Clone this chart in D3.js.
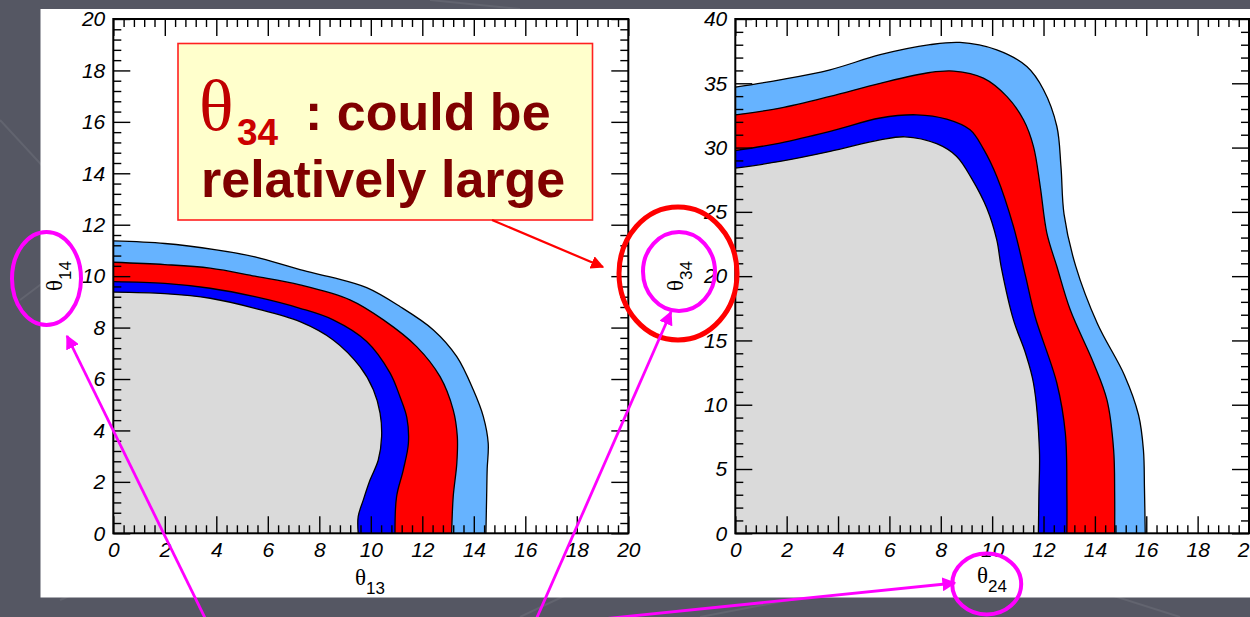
<!DOCTYPE html>
<html><head><meta charset="utf-8">
<script src="https://cdn.jsdelivr.net/npm/d3@7"></script>
<style>
html,body{margin:0;padding:0;background:#555763;}
svg{display:block;}
</style></head>
<body>
<svg id="c" width="1250" height="617"></svg>
<script>
// ---------------- DATA ----------------
// Left panel: theta13 (x) vs theta14 (y), outer boundaries of each region
const leftXTicks = [0,2,4,6,8,10,12,14,16,18,20];
const leftYTicks = [0,2,4,6,8,10,12,14,16,18,20];
const leftLightBlue = [[0,11.37],[2,11.27],[4,11.02],[5.5,10.75],[7.25,10.25],[8.5,9.95],[9.84,9.55],[11.13,8.82],[12.43,7.91],[13.34,6.87],[13.98,5.58],[14.37,4.54],[14.56,3.5],[14.52,2.5],[14.5,1.5],[14.47,0]];
const leftRed = [[0,10.54],[2,10.45],[3.76,10.31],[5.5,10.0],[7.25,9.66],[9.19,9.08],[10.49,8.3],[11.78,7.26],[12.69,6.09],[13.2,4.8],[13.36,3.76],[13.34,2.72],[13.2,1.42],[13.14,0]];
const leftBlue = [[0,9.79],[2,9.72],[3.76,9.53],[5.5,9.2],[7.25,8.75],[8.54,8.3],[9.84,7.46],[10.75,6.23],[11.13,5.32],[11.4,4.5],[11.46,3.5],[11.26,2.46],[11.0,1.42],[10.94,0]];
const leftGray = [[0,9.38],[2,9.32],[3.76,9.14],[5.5,8.75],[7.25,8.23],[8.54,7.52],[9.58,6.48],[10.1,5.58],[10.36,4.67],[10.42,3.76],[10.29,2.85],[9.97,2.07],[9.71,1.3],[9.51,0.65],[9.51,0]];

// Right panel: theta24 (x) vs theta34 (y)
const rightXTicks = [0,2,4,6,8,10,12,14,16,18,20];
const rightYTicks = [0,5,10,15,20,25,30,35,40];
const rightLightBlue = [[0,34.7],[1.74,35.27],[3.69,36.05],[5.64,37.22],[7.58,38.0],[8.75,38.18],[10.18,37.6],[11.35,36.3],[12.0,34.5],[12.52,31.64],[12.68,28.5],[12.8,24.8],[13.25,20.8],[14.1,16.3],[15.15,12.3],[15.7,9.2],[15.89,6.48],[15.93,3.5],[15.96,0]];
const rightRed = [[0,32.55],[1.74,33.07],[3.69,33.98],[5.64,35.0],[7.58,35.84],[8.5,35.95],[9.66,35.4],[10.57,33.98],[11.22,32.16],[11.61,30.08],[11.87,27.0],[12.13,23.35],[12.52,20.75],[13.04,17.38],[13.95,13.23],[14.47,10.37],[14.73,6.48],[14.77,3],[14.77,0]];
const rightBlue = [[0,29.77],[1.74,30.35],[3.69,31.26],[5.64,32.3],[7.06,32.55],[8.23,32.21],[9.14,31.38],[9.66,29.9],[10.18,27.75],[10.83,23.86],[11.3,20.0],[11.67,16.86],[12.52,11.67],[12.85,7.78],[12.91,3],[12.91,0]];
const rightGray = [[0,28.4],[1.74,28.92],[3.69,29.7],[5.64,30.6],[6.6,30.84],[7.84,30.3],[8.62,29.31],[9.2,27.6],[9.79,25.3],[10.18,22.82],[10.35,20.75],[10.83,16.6],[11.3,14],[11.61,11.67],[11.84,6.48],[11.82,3],[11.8,0]];

const regionColors = ["#66b3ff","#ff0000","#0000ff","#dadada"];
const axisTitles = {left:["13","14"], right:["24","34"]};
const noteLine1 = ": could be";
const noteLine2 = "relatively large";

// ---------------- DRAW ----------------
const svg = d3.select("#c");

// faint background decorations
const deco = [[0,120,120,250],[60,600,200,540],[520,617,640,560],[700,617,1000,560],[1000,560,1180,617],[20,300,100,240],[430,0,520,9]];
svg.selectAll("line.deco").data(deco).join("line")
  .attr("x1",d=>d[0]).attr("y1",d=>d[1]).attr("x2",d=>d[2]).attr("y2",d=>d[3])
  .attr("stroke","#62646f").attr("stroke-width",2);

// white slide panel
svg.append("rect").attr("x",40.5).attr("y",9).attr("width",1215).attr("height",588.5).attr("fill","#ffffff");

const defs = svg.append("defs");
["m","r"].forEach(id=>{
  defs.append("marker").attr("id","arr-"+id).attr("viewBox","0 0 10 10")
    .attr("refX",9).attr("refY",5).attr("markerWidth",id==="m"?5:6).attr("markerHeight",id==="m"?5:6)
    .attr("markerUnits","strokeWidth").attr("orient","auto")
    .append("path").attr("d","M0,0L10,5L0,10Z").attr("fill",id==="m"?"#ff00ff":"#ff0000");
});

function panel(cfg){
  const {x,y,xMinor,yMinor,regions,xTicks,yTicks,id} = cfg;
  const g = svg.append("g");
  defs.append("clipPath").attr("id","clip-"+id).append("rect")
    .attr("x",x.range()[0]).attr("y",y.range()[1])
    .attr("width",x.range()[1]-x.range()[0]).attr("height",y.range()[0]-y.range()[1]);
  const cg = g.append("g").attr("clip-path",`url(#clip-${id})`);
  const line = d3.line().x(d=>x(d[0])).y(d=>y(d[1])).curve(d3.curveCatmullRom.alpha(0.5));
  regions.forEach((pts,i)=>{
    cg.append("path").attr("d", line(pts)+`L${x(0)},${y(0)}Z`).attr("fill",regionColors[i]);
    cg.append("path").attr("d", line(pts)).attr("fill","none").attr("stroke","#000").attr("stroke-width",1.3);
  });
  const font = "italic 21px 'Liberation Sans', Arial, sans-serif";
  const styleAxis = (sel)=>{ sel.select(".domain").remove(); sel.selectAll("line").attr("stroke","#000").attr("stroke-width",1.4);
    sel.selectAll("text").style("font",font).attr("fill","#000"); };
  const y0 = y.range()[0], y1 = y.range()[1], x0 = x.range()[0], x1 = x.range()[1];
  g.append("g").attr("transform",`translate(0,${y0})`).call(d3.axisBottom(x).tickValues(xTicks).tickSize(-17).tickPadding(9).tickFormat(d3.format("d"))).call(styleAxis);
  g.append("g").attr("transform",`translate(0,${y0})`).call(d3.axisBottom(x).tickValues(xMinor).tickSize(-8).tickFormat("")).call(styleAxis);
  g.append("g").attr("transform",`translate(0,${y1})`).call(d3.axisTop(x).tickValues(xTicks).tickSize(-17).tickFormat("")).call(styleAxis);
  g.append("g").attr("transform",`translate(0,${y1})`).call(d3.axisTop(x).tickValues(xMinor).tickSize(-8).tickFormat("")).call(styleAxis);
  g.append("g").attr("transform",`translate(${x0},0)`).call(d3.axisLeft(y).tickValues(yTicks).tickSize(-17).tickPadding(8).tickFormat(d3.format("d"))).call(styleAxis);
  g.append("g").attr("transform",`translate(${x0},0)`).call(d3.axisLeft(y).tickValues(yMinor).tickSize(-8).tickFormat("")).call(styleAxis);
  g.append("g").attr("transform",`translate(${x1},0)`).call(d3.axisRight(y).tickValues(yTicks).tickSize(-17).tickFormat("")).call(styleAxis);
  g.append("g").attr("transform",`translate(${x1},0)`).call(d3.axisRight(y).tickValues(yMinor).tickSize(-8).tickFormat("")).call(styleAxis);
  g.append("rect").attr("x",x0).attr("y",y1).attr("width",x1-x0).attr("height",y0-y1)
    .attr("fill","none").attr("stroke","#000").attr("stroke-width",2);
  return g;
}

const xL = d3.scaleLinear([0,20],[113.3,628.3]);
const yL = d3.scaleLinear([0,20],[533.3,19]);
const xR = d3.scaleLinear([0,20],[735.3,1249]);
const yR = d3.scaleLinear([0,40],[533.3,19]);

const minor02 = d3.range(0,51).filter(i=>i%5!==0).map(i=>+(i*0.4).toFixed(1));
const minor40 = d3.range(0,41).filter(i=>i%5!==0);

panel({id:"L",x:xL,y:yL,xMinor:minor02,yMinor:minor02,xTicks:leftXTicks,yTicks:leftYTicks,
  regions:[leftLightBlue,leftRed,leftBlue,leftGray]});
panel({id:"R",x:xR,y:yR,xMinor:minor02,yMinor:minor40,xTicks:rightXTicks,yTicks:rightYTicks,
  regions:[rightLightBlue,rightRed,rightBlue,rightGray]});

// axis titles
function theta(x,y,sub,rot){
  const t = svg.append("text").attr("transform",`translate(${x},${y})`+(rot?" rotate(-90)":"")).attr("fill","#000");
  t.append("tspan").text("θ").style("font","23px 'Liberation Serif', 'Times New Roman', serif");
  t.append("tspan").attr("dy",9).text(sub).style("font","17px 'Liberation Sans', Arial, sans-serif");
}
theta(355,585,axisTitles.left[0],false);
theta(62,291,axisTitles.left[1],true);
theta(977,583,axisTitles.right[0],false);
theta(683,291,axisTitles.right[1],true);

// annotation box
svg.append("rect").attr("x",178).attr("y",43.5).attr("width",414.5).attr("height",176.5)
  .attr("fill","#ffffcc").attr("stroke","#ff2020").attr("stroke-width",1.6);
svg.append("text").attr("x",199).attr("y",130).attr("fill","#c00000")
  .style("font","72px 'Liberation Serif', 'Times New Roman', serif").text("θ");
svg.append("text").attr("x",237).attr("y",145).attr("fill","#cc0000")
  .style("font","bold 37px 'Liberation Sans', Arial, sans-serif").text("34");
svg.append("text").attr("x",305).attr("y",130).attr("fill","#800000")
  .style("font","bold 52px 'Liberation Sans', Arial, sans-serif").text(noteLine1);
svg.append("text").attr("x",201).attr("y",197).attr("fill","#800000")
  .style("font","bold 52px 'Liberation Sans', Arial, sans-serif").text(noteLine2);

// red arrow
svg.append("line").attr("x1",492).attr("y1",220).attr("x2",603).attr("y2",267)
  .attr("stroke","#ff0000").attr("stroke-width",2.2).attr("marker-end","url(#arr-r)");

// red ellipse
svg.append("ellipse").attr("cx",678).attr("cy",273.5).attr("rx",59).attr("ry",66.5)
  .attr("fill","none").attr("stroke","#ff0000").attr("stroke-width",5);

// magenta ellipses
[[679,271.5,36,39.5],[46.5,278.5,34.5,46.5],[986.7,584,34.5,30.5]].forEach(e=>{
  svg.append("ellipse").attr("cx",e[0]).attr("cy",e[1]).attr("rx",e[2]).attr("ry",e[3])
    .attr("fill","none").attr("stroke","#ff00ff").attr("stroke-width",4);
});

// magenta arrows
[[207,622,67,336],[535,622,671,312],[602,619,955,583]].forEach(a=>{
  svg.append("line").attr("x1",a[0]).attr("y1",a[1]).attr("x2",a[2]).attr("y2",a[3])
    .attr("stroke","#ff00ff").attr("stroke-width",2.8).attr("marker-end","url(#arr-m)");
});
</script>
</body></html>
